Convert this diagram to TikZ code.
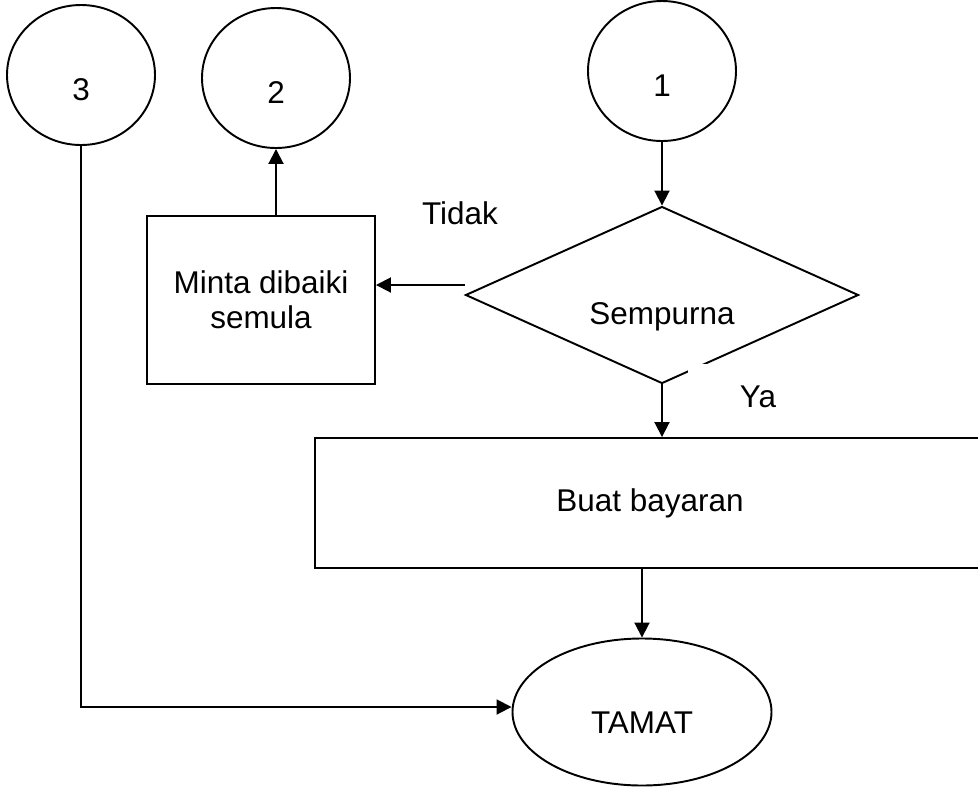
\documentclass[tikz,border=0pt]{standalone}
\usepackage{fontspec}
\setmainfont{Liberation Sans}
\usetikzlibrary{shapes.geometric, arrows.meta}

\begin{document}
\begin{tikzpicture}[font=\fontsize{17.9}{20}\selectfont]
        % Setup the styles for the shapes
        \tikzset{connector style/.style={ellipse, draw,
                                    line width=1.1pt,
                                    inner sep=0pt,
                                    minimum width=2.96cm,
                                    minimum height=2.80cm,
                                    text height=1.03cm,
                                    text depth=0pt},
                 process style/.style={rectangle, draw,
                                    line width=1.1pt,
                                    align=center},
                 decision style/.style={diamond, draw,
                                    line width=1.1pt,
                                    inner sep=0pt,
                                    shape aspect=2.2,
                                    minimum width=7.86cm,
                                    minimum height=3.54cm,
                                    text height=1.17cm,
                                    text depth=0pt},
                 end style/.style={ellipse, draw,
                                    line width=1.1pt,
                                    inner sep=0pt,
                                    minimum width=5.18cm,
                                    minimum height=2.94cm,
                                    text height=0.85cm,
                                    text depth=0pt},
                 arrow style/.style={draw,
                                    -{Triangle[length=0.3cm, width=0.3cm]},
                                    line width=1.1pt}}

        \useasboundingbox (0,0) rectangle (19.56,-15.72);

        % Draw the shapes
        \node[connector style] at (1.62, -1.50)  (three) {3};
        \node[connector style] at (5.52, -1.56)  (two)   {2};
        \node[connector style] at (13.24, -1.42) (one)   {1};
        \node[process style, minimum width=4.56cm, minimum height=3.36cm] at (5.22, -6.00) (repair) {Minta dibaiki\\semula};
        \node[decision style] at (13.24, -5.90) (perfect) {Sempurna};
        \node[process style, minimum width=13.4cm, minimum height=2.6cm] at (13.00, -10.06) (pay) {Buat bayaran};
        \node[end style] at (12.84, -14.24) (finish) {TAMAT};

        % Draw the answers
        \node at (9.20, -4.26) (no) {Tidak};
        \node[fill=white, minimum width=2.8cm, minimum height=1.32cm] at (15.16, -7.94) (yes) {Ya};

        % Connect the shapes with arrows
        \path[every edge/.style={arrow style}]
            (one)                        edge (perfect)
            ([yshift=2mm]perfect.west)   edge ([yshift=2mm]perfect.west -| repair.east)
            (two.south |- repair.north)  edge (two.south)
            (perfect.south)              edge (perfect.south |- pay.north)
            (finish.north |- pay.south)  edge (finish.north);
        \draw[arrow style] (three.south) |- ([yshift=1mm]finish.west);
\end{tikzpicture}
\end{document}
